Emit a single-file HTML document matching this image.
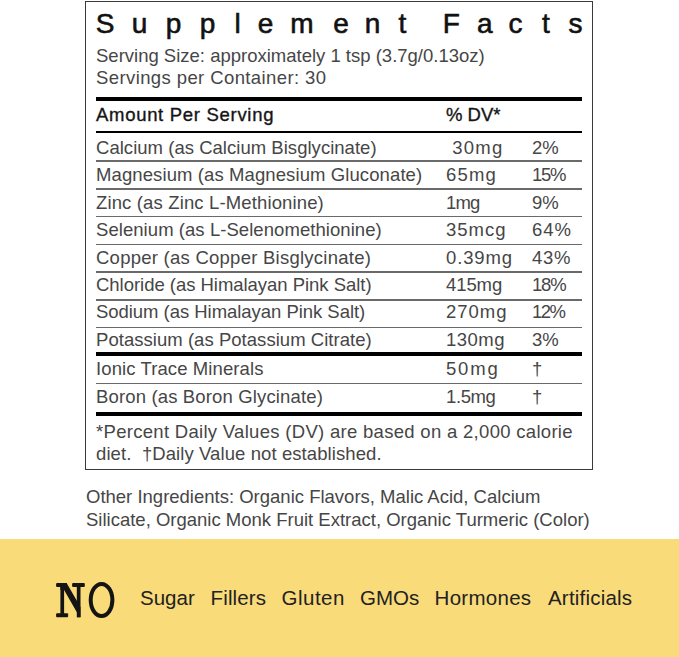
<!DOCTYPE html>
<html><head><meta charset="utf-8">
<style>
html,body{margin:0;padding:0;}
body{width:679px;height:657px;position:relative;overflow:hidden;background:#fff;font-family:"Liberation Sans",sans-serif;color:#464646;}
.a{position:absolute;white-space:pre;line-height:1;}
.box{position:absolute;left:85px;top:1px;width:506px;height:467px;border:1px solid #3a3a3a;}
.bar{position:absolute;left:96px;width:486px;background:#000;}
.thin{position:absolute;left:96px;width:486px;height:1.5px;background:#6a6a6a;}
.t{font-size:18.5px;}
.hd{color:#151515;-webkit-text-stroke:0.35px #151515;}
.title span{position:absolute;top:10px;font-size:28px;color:#111;-webkit-text-stroke:0.6px #111;line-height:1;}
.ban{position:absolute;left:0;top:539px;width:679px;height:118px;background:#fadb7a;}
.bw{font-size:20.5px;color:#222;}
</style></head><body>
<div class="box"></div>
<div class="title"><span style="left:95.8px">S</span><span style="left:131.8px">u</span><span style="left:165.8px">p</span><span style="left:199.8px">p</span><span style="left:234.5px">l</span><span style="left:257.8px">e</span><span style="left:290.3px">m</span><span style="left:333.3px">e</span><span style="left:364.7px">n</span><span style="left:398.5px">t</span><span style="left:442.8px">F</span><span style="left:477.1px">a</span><span style="left:508.6px">c</span><span style="left:542.0px">t</span><span style="left:568.4px">s</span></div>
<div class="a t" style="left:96px;top:46.7px">Serving Size: approximately 1 tsp (3.7g/0.13oz)</div>
<div class="a t" style="left:96px;top:68.5px;letter-spacing:0.4px">Servings per Container: 30</div>
<div class="bar" style="top:97px;height:4px"></div>
<div class="a t hd" style="left:96px;top:105.8px;letter-spacing:0.7px">Amount Per Serving</div>
<div class="a t hd" style="left:446px;top:105.8px">% DV*</div>
<div class="bar" style="top:130.5px;height:2.7px"></div>
<div class="a t" style="left:96px;top:138.8px;letter-spacing:0.03px">Calcium (as Calcium Bisglycinate)</div><div class="a t" style="left:446px;top:138.8px;letter-spacing:1.2px"> 30mg</div><div class="a t" style="left:532px;top:138.8px;letter-spacing:0px">2%</div>

<div class="a t" style="left:96px;top:165.8px;letter-spacing:0.1px">Magnesium (as Magnesium Gluconate)</div><div class="a t" style="left:446px;top:165.8px;letter-spacing:1.2px">65mg</div><div class="a t" style="left:532px;top:165.8px;letter-spacing:-1.3px">15%</div>

<div class="a t" style="left:96px;top:193.6px;letter-spacing:0.14px">Zinc (as Zinc L-Methionine)</div><div class="a t" style="left:446px;top:193.6px;letter-spacing:-0.8px">1mg</div><div class="a t" style="left:532px;top:193.6px;letter-spacing:0px">9%</div>

<div class="a t" style="left:96px;top:221.4px;letter-spacing:0.06px">Selenium (as L-Selenomethionine)</div><div class="a t" style="left:446px;top:221.4px;letter-spacing:1.0px">35mcg</div><div class="a t" style="left:532px;top:221.4px;letter-spacing:0.9px">64%</div>

<div class="a t" style="left:96px;top:248.8px;letter-spacing:0.25px">Copper (as Copper Bisglycinate)</div><div class="a t" style="left:446px;top:248.8px;letter-spacing:0.85px">0.39mg</div><div class="a t" style="left:532px;top:248.8px;letter-spacing:0.7px">43%</div>

<div class="a t" style="left:96px;top:275.7px;letter-spacing:-0.03px">Chloride (as Himalayan Pink Salt)</div><div class="a t" style="left:446px;top:275.7px;letter-spacing:-0.1px">415mg</div><div class="a t" style="left:532px;top:275.7px;letter-spacing:-1.2px">18%</div>

<div class="a t" style="left:96px;top:303.4px;letter-spacing:-0.04px">Sodium (as Himalayan Pink Salt)</div><div class="a t" style="left:446px;top:303.4px;letter-spacing:1.0px">270mg</div><div class="a t" style="left:532px;top:303.4px;letter-spacing:-1.5px">12%</div>

<div class="a t" style="left:96px;top:330.6px;letter-spacing:0.04px">Potassium (as Potassium Citrate)</div><div class="a t" style="left:446px;top:330.6px;letter-spacing:0.5px">130mg</div><div class="a t" style="left:532px;top:330.6px;letter-spacing:0px">3%</div>

<div class="thin" style="top:160.1px"></div>
<div class="thin" style="top:188.0px"></div>
<div class="thin" style="top:215.9px"></div>
<div class="thin" style="top:243.6px"></div>
<div class="thin" style="top:271.1px"></div>
<div class="thin" style="top:299.0px"></div>
<div class="thin" style="top:326.8px"></div>
<div class="bar" style="top:352px;height:3.5px"></div>
<div class="a t" style="left:96px;top:360.3px;letter-spacing:0.1px">Ionic Trace Minerals</div><div class="a t" style="left:446px;top:360.3px;letter-spacing:1.8px">50mg</div><div class="a t" style="left:532px;top:360.3px;letter-spacing:0px">†</div>

<div class="a t" style="left:96px;top:388.3px;letter-spacing:0.15px">Boron (as Boron Glycinate)</div><div class="a t" style="left:446px;top:388.3px;letter-spacing:-0.4px">1.5mg</div><div class="a t" style="left:532px;top:388.3px;letter-spacing:0px">†</div>

<div class="thin" style="top:382.6px"></div>
<div class="bar" style="top:411.5px;height:4px"></div>
<div class="a t" style="left:96px;top:423px;letter-spacing:0.3px">*Percent Daily Values (DV) are based on a 2,000 calorie</div>
<div class="a t" style="left:96px;top:445px;letter-spacing:0.09px">diet.  †Daily Value not established.</div>
<div class="a t" style="left:86px;top:487.5px">Other Ingredients: Organic Flavors, Malic Acid, Calcium</div>
<div class="a t" style="left:86px;top:510.5px">Silicate, Organic Monk Fruit Extract, Organic Turmeric (Color)</div>
<div class="ban"></div>
<svg style="position:absolute;left:0;top:0" width="679" height="657">
<g fill="#141414">
<rect x="56.1" y="583" width="10.8" height="4" rx="1"/>
<rect x="72.1" y="583" width="12.7" height="4" rx="1"/>
<rect x="56.1" y="613.2" width="12" height="4" rx="1"/>
<rect x="60.4" y="583" width="3.7" height="33"/>
<rect x="76.8" y="584" width="3.7" height="33.2"/>
<polygon points="60.4,583 66.6,583 80.5,607 80.5,617.2 77,617.2 77,612.5 64.1,590 60.4,590"/>
</g>
<ellipse cx="101.55" cy="600" rx="10.85" ry="16" fill="none" stroke="#141414" stroke-width="4"/>
</svg>
<div class="a bw" style="left:140px;top:588px;letter-spacing:0px">Sugar</div>
<div class="a bw" style="left:210.5px;top:588px;letter-spacing:0.15px">Fillers</div>
<div class="a bw" style="left:281.5px;top:588px;letter-spacing:0.5px">Gluten</div>
<div class="a bw" style="left:360px;top:588px;letter-spacing:0px">GMOs</div>
<div class="a bw" style="left:434.6px;top:588px;letter-spacing:0.28px">Hormones</div>
<div class="a bw" style="left:548px;top:588px;letter-spacing:0.2px">Artificials</div>
</body></html>
